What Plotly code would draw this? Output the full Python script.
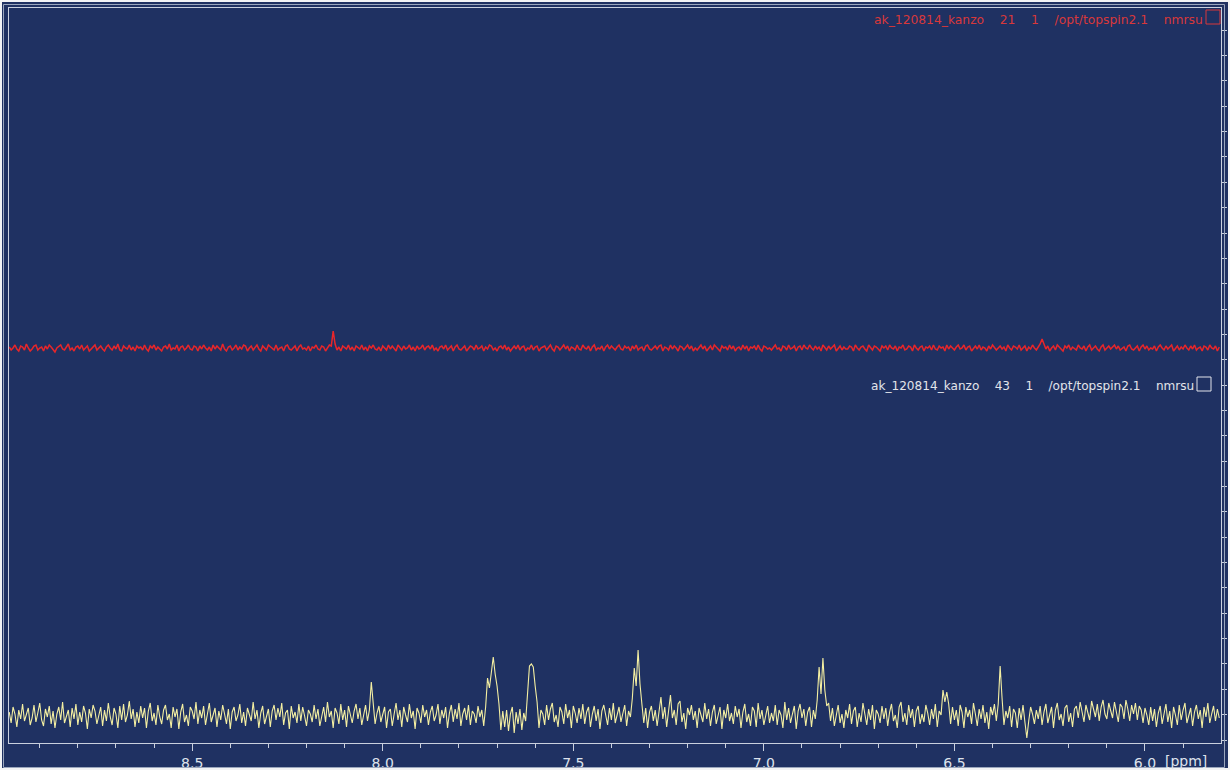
import plotly.graph_objects as go

# ---------------- data ----------------
ppm_start = 8.98
point_step = 0.005   # ppm per point (both spectra)

# spectrum "43" (lower, yellow) intensities, 0.1 ppm per row starting at 8.98
yellow_intensity = [
    4, -7, 9, 2, -11, 6, -3, 12, -5, 1, 8, -9, -2, 11, -6, 3, 13, -4, -10, 7,
    -1, 10, -8, 5, -12, 2, 9, -4, 14, -7, 0, 6, -11, 8, -3, 12, -9, 4, -6, 10,
    3, -13, 7, -2, 11, 5, -8, 1, 9, -10, 6, -5, 13, -1, -9, 8, 2, -12, 10, -4,
    12, -6, 1, 15, -3, 7, -11, 4, -7, 10, -2, 8, -12, 5, 13, -5, 3, -9, 11, -1,
    -8, 6, 11, -4, 2, -12, 9, -1, 7, -13, 4, 12, -6, 1, -10, 9, 5, -3, 14, -8,
    6, -2, 10, -9, 3, 13, -6, 0, 8, -11, 5, -4, 11, 2, -8, 7, -13, 4, 9, -5,
    1, 12, -7, 4, -10, 8, 2, -5, 14, -3, 6, -12, 3, 10, -8, 1, 7, -11, 5, 11,
    -4, 8, -1, 13, -9, 3, 6, -13, 10, -2, 4, -7, 12, -5, 9, 0, -10, 6, 2, -6,
    11, -3, 7, -10, 1, 9, -6, 14, -1, 5, -12, 8, 3, -8, 12, -4, 6, -11, 10, 2,
    -7, 5, 12, -3, 8, -9, 2, 11, -5, 6, 34, 14, -8, 3, 10, -6, 1, 9, -12, 4,
    7, -10, 2, 13, -4, 6, -11, 9, 1, -6, 12, -2, 5, -13, 8, 3, -7, 11, -1, 6,
    -9, 4, 10, -5, 1, 12, -8, 6, -2, 9, -12, 3, 11, -6, 7, -3, 13, -10, 2, 8,
    -4, 11, -9, 5, 2, -7, 10, -1, 6, -10, 9, 38, 28, 46, 59, 42, 30, 12, -14, 5,
    -11, 6, -15, 2, 9, -17, 4, -8, 7, -14, 3, -5, 20, 50, 52, 49, 30, 14, -12, 6,
    2, -9, 11, -4, 7, 13, -6, 1, -11, 9, 4, -8, 12, -2, 6, -12, 10, 3, -7, 8,
    -3, 12, -8, 4, 9, -11, 2, 10, -5, 7, -13, 5, 11, -1, -9, 8, -4, 13, -7, 1,
    9, -6, 3, 11, -10, 5, -1, 18, 48, 30, 66, 32, 12, -7, 8, -12, 4, 10, -5, 6,
    -10, 7, 19, -3, 9, -11, 5, 21, -2, 6, -9, 12, 15, -6, 3, -13, 8, 1, 11, -4,
    5, -12, 8, 2, -6, 13, -3, 7, -10, 4, 11, -8, 1, 9, -13, 6, -2, 12, -5, 3,
    -8, 10, -1, 7, -12, 4, 12, -6, 2, -10, 9, 5, -11, 13, -3, 6, -9, 1, 10, -7,
    3, -5, 11, -9, 6, 1, -12, 14, -4, 8, -7, 2, 10, -13, 5, 12, -2, 7, -10, 4,
    9, -11, 6, -3, 16, 49, 22, 58, 26, 10, 13, -5, 8, -10, 3, 11, -7, 2, -12, 6,
    -2, 12, -8, 5, 9, -11, 3, -6, 13, 1, -9, 7, -4, 11, -13, 6, 2, -7, 10, -3,
    8, -10, 4, 12, -5, 1, -12, 9, 14, -6, 3, -9, 11, -2, 7, -11, 5, 10, -8, 2,
    -6, 11, 3, -9, 7, -3, 12, -11, 5, 1, 26, 14, 24, 12, -8, 9, -4, 6, -10, 11,
    4, -12, 9, -1, 6, -8, 13, 2, -10, 7, -3, 11, -7, 4, -13, 9, 1, 12, -5, 12,
    50, 18, -9, 5, -2, 10, -11, 7, 3, -12, 8, -4, 11, -6, -22, -5, 9, 2, -8, 6,
    -3, 10, -9, 4, 12, -7, 1, 9, -12, 6, 13, -4, 2, -10, 8, 11, -6, 3, -11, 7,
    10, -2, 14, 5, -6, 11, 3, -4, 15, 8, -1, 12, -5, 9, 16, 2, -3, 13, 6, -2,
    14, 4, -6, 12, 9, -3, 16, 7, -5, 11, 2, 13, -4, 10, 6, -7, 8, 1, -9, 9,
    -5, 7, -11, 3, 10, -8, 2, 12, -6, 5, -12, 9, 1, -9, 11, -4, 6, 13, -7, 2,
    8, -10, 4, 11, -3, 6, -12, 9, -1, 13, -7, 2, 10, -5, 7, -2,
]

# spectrum "21" (upper, red) intensities, 0.1 ppm per row starting at 8.98
red_intensity = [
    1, -2, 0, 3, -1, -3, 2, 1, -2, 4, 0, -3, -1, 2, 3, -2, 0, 1, -3, 2,
    -1, 3, 1, -2, -4, 0, 2, 3, -1, -2, 1, 4, -2, 0, -3, 1, 2, -1, 3, -2,
    0, 2, -3, -1, 1, 3, -2, 0, 2, -1, -3, 1, 3, 0, -2, 2, -1, 4, -2, -3,
    2, 0, -1, 3, -2, 1, -3, 2, 0, 1, -2, 3, -1, -3, 2, 0, 3, -2, 1, -1,
    -3, 1, 2, -1, 4, -2, 0, -1, 3, -3, 1, 2, -2, 0, 3, -1, -2, 2, 1, -3,
    2, -1, 3, 0, -2, 1, -3, 3, -1, 2, 0, -2, 4, -1, -3, 1, 2, -2, 0, 3,
    -2, 1, -1, 3, 2, -3, 0, 2, -2, 1, 3, -1, -3, 2, 0, -2, 3, 1, -1, -2,
    3, -2, 0, 1, -3, 2, 3, -1, -2, 0, 2, -3, 1, 3, -1, 0, -2, 2, -3, 1,
    0, 3, -1, -2, 2, 1, -3, 0, 3, 2, 17, 4, -2, 1, -3, 2, 0, -1, 3, -2,
    1, -3, 2, 0, -1, 3, -2, 1, -3, 2, 0, 3, -1, -2, 1, -3, 2, 0, -2, 3,
    -1, 2, 0, -3, 3, 1, -2, 2, -1, 0, 3, -2, 1, -3, 2, -1, 0, 3, -2, 1,
    2, -1, 3, -2, 0, -3, 1, 2, -1, 3, -2, 0, 2, -3, 1, 3, -1, -2, 0, 2,
    -3, 0, 2, 1, -2, 3, -1, 0, 2, -3, 1, -1, 3, 2, -2, 0, -3, 1, 2, -1,
    3, -2, 1, -3, 0, 2, -1, 3, -2, 1, 2, -3, 0, -1, 3, -2, 1, 2, -3, 0,
    1, 2, -2, 0, 3, -1, -3, 2, 1, -2, 0, 3, -1, 2, -3, 1, 0, -2, 3, -1,
    -2, 3, 0, -1, 2, -3, 1, 3, -2, 0, -1, 2, -3, 1, 3, -1, 2, 0, -2, 1,
    3, -1, -2, 2, 0, 1, -3, 2, -1, 3, -2, 0, 1, -3, 2, 3, -1, -2, 0, 2,
    -1, 2, 3, -3, 1, 0, -2, 3, -1, 2, 0, -3, 2, 1, -2, 0, 3, -1, 2, -3,
    0, -2, 1, 3, -1, 2, -3, 0, 2, -2, 3, 1, -1, -3, 2, 0, 1, -2, 3, -1,
    2, -3, 0, 1, -2, 3, -1, 2, -3, 1, 0, 2, -2, 3, -1, -3, 2, 1, -1, 0,
    -2, 1, 3, -1, 0, -3, 2, 1, -2, 3, -1, 0, 2, -3, 1, 2, -2, 3, 0, -1,
    3, 0, -2, 2, -1, 1, -3, 3, 0, -2, 2, -1, 1, 3, -3, 0, 2, -2, 1, -1,
    -1, 2, 1, -3, 3, 0, -2, 1, 2, -1, -3, 3, 0, -2, 2, 1, -1, -3, 2, 0,
    2, -2, 3, 0, -1, 2, -3, 1, 0, 3, -2, -1, 2, 1, -3, 3, 0, -2, 1, 2,
    -3, 1, 0, 2, -2, 3, -1, -2, 2, 0, 1, -3, 3, -1, 2, 0, -2, 1, 3, -1,
    0, 3, -2, 1, 2, -3, 0, 2, -1, 3, -2, 1, 0, -3, 2, -1, 3, 1, -2, 0,
    2, -1, 1, -3, 3, 0, -2, 2, 1, -1, 3, -2, 0, 2, -3, 1, -1, 3, 0, -2,
    1, 4, 9, 3, -1, 2, -3, 0, 2, -2, 3, 1, -1, -3, 2, 0, 3, -2, 1, -1,
    -2, 3, 0, -1, 2, -3, 1, 3, -2, 0, 2, -1, -3, 1, 3, -2, 0, 2, -1, 1,
    3, -1, 2, -2, 0, 1, -3, 2, 3, -1, -2, 0, 2, -3, 1, 3, -1, 2, -2, 0,
    -1, 2, -3, 1, 3, 0, -2, 2, -1, 1, 3, -3, 0, 2, -2, 1, -1, 3, 0, -2,
    2, -1, 3, -2, 0, 1, -3, 2, 1, -2, 3, 0, -1, 2, -3, 1,
]

x_range = [8.9806, 5.8005]
x_major_ticks = [8.5, 8.0, 7.5, 7.0, 6.5, 6.0]
x_tick_labels = ["8.5", "8.0", "7.5", "7.0", "6.5", "6.0"]
label_upper = "ak_120814_kanzo    21    1    /opt/topspin2.1    nmrsu"
label_lower = "ak_120814_kanzo    43    1    /opt/topspin2.1    nmrsu"

# ---------------- style / layout ----------------
W, H = 1230, 770
ML, MR, MT, MB = 9, 9, 8, 27
PW, PH = W - ML - MR, H - MT - MB
BG = "#1f3162"
FRAME = "#c9d0de"
RED = "#e8262a"
YEL = "#f4efa2"
TXT = "#dde2ec"
FONT = "DejaVu Sans"


def px(x):
    return (x - ML) / PW


def py(y):
    return (H - MB - y) / PH


fig = go.Figure()
fig.add_trace(go.Scatter(
    y=yellow_intensity, x0=ppm_start, dx=-point_step, mode="lines",
    line=dict(color=YEL, width=1.1), yaxis="y", hoverinfo="skip",
))
fig.add_trace(go.Scatter(
    y=red_intensity, x0=ppm_start, dx=-point_step, mode="lines",
    line=dict(color=RED, width=1.5), yaxis="y2", hoverinfo="skip",
))

nb = lambda s: s.replace(" ", "\u00a0")

annotations = [
    dict(x=px(1205), y=py(19.5), xref="paper", yref="paper", text=nb(label_upper),
         showarrow=False, xanchor="right", yanchor="middle",
         font=dict(family=FONT, size=12.3, color="#d8383a")),
    dict(x=px(1196), y=py(386), xref="paper", yref="paper", text=nb(label_lower),
         showarrow=False, xanchor="right", yanchor="middle",
         font=dict(family=FONT, size=12.1, color="#e2e4ea")),
    dict(x=px(1186), y=py(761), xref="paper", yref="paper", text="[ppm]",
         showarrow=False, xanchor="center", yanchor="middle",
         font=dict(family=FONT, size=14, color=TXT)),
]

shapes = [
    dict(type="rect", xref="paper", yref="paper", x0=px(1206), x1=px(1220),
         y0=py(24), y1=py(10), line=dict(color="#d8383a", width=1)),
    dict(type="rect", xref="paper", yref="paper", x0=px(1197), x1=px(1211),
         y0=py(391), y1=py(377), line=dict(color="#e2e4ea", width=1)),
    # scan border
    dict(type="rect", xref="paper", yref="paper", x0=px(3.5), x1=px(1224.5),
         y0=py(767.5), y1=py(4.5), line=dict(color="#9aa6bd", width=1)),
    dict(type="rect", xref="paper", yref="paper", x0=px(0), x1=px(W),
         y0=py(H), y1=py(0), line=dict(color="#f2f3f5", width=4)),
]

fig.update_layout(
    width=W, height=H,
    margin=dict(l=ML, r=MR, t=MT, b=MB, pad=0, autoexpand=False),
    paper_bgcolor=BG, plot_bgcolor=BG,
    showlegend=False,
    font=dict(family=FONT, color=TXT),
    xaxis=dict(
        range=x_range, tickmode="array", tickvals=x_major_ticks, ticktext=x_tick_labels,
        ticks="outside", ticklen=7, tickwidth=1, tickcolor=FRAME,
        tickfont=dict(family=FONT, size=14, color=TXT),
        minor=dict(ticks="outside", ticklen=4, dtick=0.1, tick0=0, tickcolor=FRAME, showgrid=False),
        showline=True, linecolor=FRAME, linewidth=1, mirror=True,
        showgrid=False, zeroline=False, automargin=False,
    ),
    yaxis=dict(
        range=[-27, 708], side="right", showticklabels=False,
        tickmode="linear", tick0=-24, dtick=25.35,
        ticks="outside", ticklen=5, tickcolor=FRAME,
        showline=True, linecolor=FRAME, linewidth=1, mirror=True,
        showgrid=False, zeroline=False, automargin=False,
    ),
    yaxis2=dict(
        range=[-395, 340], overlaying="y", visible=False, automargin=False,
    ),
    annotations=annotations,
    shapes=shapes,
)

fig.write_html(
    "out.html",
    config={"displayModeBar": False},
    post_script="document.body.style.margin='0px';document.body.style.overflow='hidden';",
)
